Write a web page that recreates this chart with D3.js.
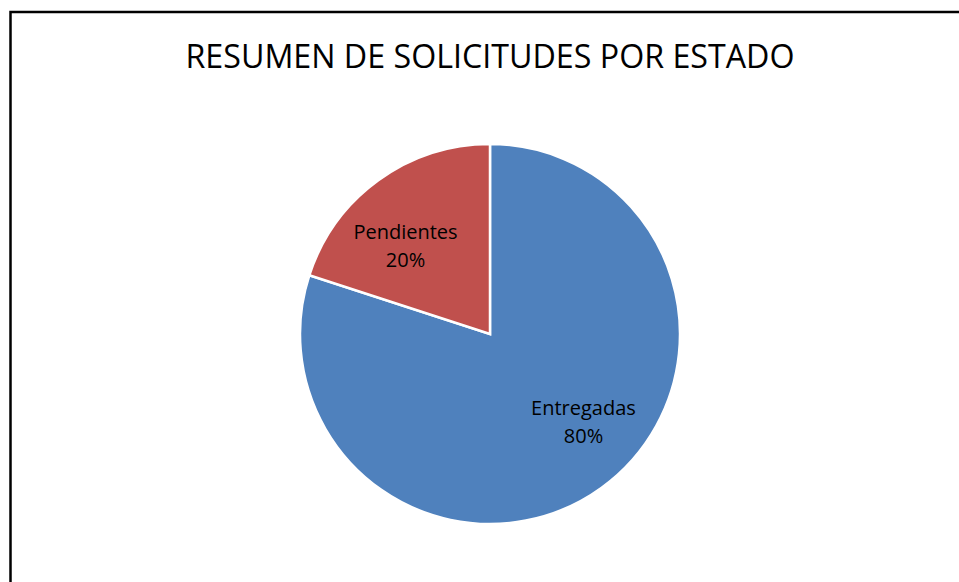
<!DOCTYPE html>
<html><head><meta charset="utf-8">
<script src="https://cdn.jsdelivr.net/npm/d3@7"></script>
<style>body{margin:0;background:#fff}svg{display:block}</style>
</head><body>
<svg id="c" width="959" height="582"></svg>
<script>
const title = "RESUMEN DE SOLICITUDES POR ESTADO";
const categories = ["Entregadas", "Pendientes"];
const values = [80, 20];
const colors = ["#4F81BD", "#C0504D"];

const W = 959, H = 582;
const svg = d3.select("#c");
svg.append("rect").attr("x", 10.5).attr("y", 12).attr("width", 960).attr("height", 600)
  .attr("fill", "#fff").attr("stroke", "#000").attr("stroke-width", 2.5);

svg.append("text").attr("x", 490).attr("y", 68).attr("text-anchor", "middle")
  .attr("font-family", "'Open Sans', 'Noto Sans', sans-serif").attr("font-size", 33)
  .attr("textLength", 609).attr("lengthAdjust", "spacingAndGlyphs")
  .attr("fill", "#000").text(title);

const cx = 490, cy = 334, R = 190;
const data = categories.map((c, i) => ({cat: c, v: values[i], color: colors[i]}));
const pie = d3.pie().value(d => d.v).sort(null).startAngle(0).endAngle(2 * Math.PI);
const arcs = pie(data);
const arc = d3.arc().innerRadius(0).outerRadius(R);
const g = svg.append("g").attr("transform", `translate(${cx},${cy})`);
g.selectAll("path").data(arcs).join("path")
  .attr("d", arc).attr("fill", d => d.data.color)
  .attr("stroke", "#fff").attr("stroke-width", 2.5).attr("stroke-linejoin", "miter");

const total = d3.sum(values);
const labelArc = d3.arc().innerRadius(0).outerRadius(2 * 125);
const labelOffsets = [[20, -16], [-11, 10]];
arcs.forEach((a, i) => {
  const [x, y] = labelArc.centroid(a);
  const t = g.append("text").attr("text-anchor", "middle")
    .attr("font-family", "'Open Sans', 'Noto Sans', sans-serif").attr("font-size", 20).attr("fill", "#000")
    .attr("transform", `translate(${x + labelOffsets[i][0]},${y + labelOffsets[i][1]})`);
  t.append("tspan").attr("x", 0).attr("y", -4).text(a.data.cat);
  t.append("tspan").attr("x", 0).attr("y", 24).text(Math.round(a.data.v / total * 100) + "%");
});
</script>
</body></html>
